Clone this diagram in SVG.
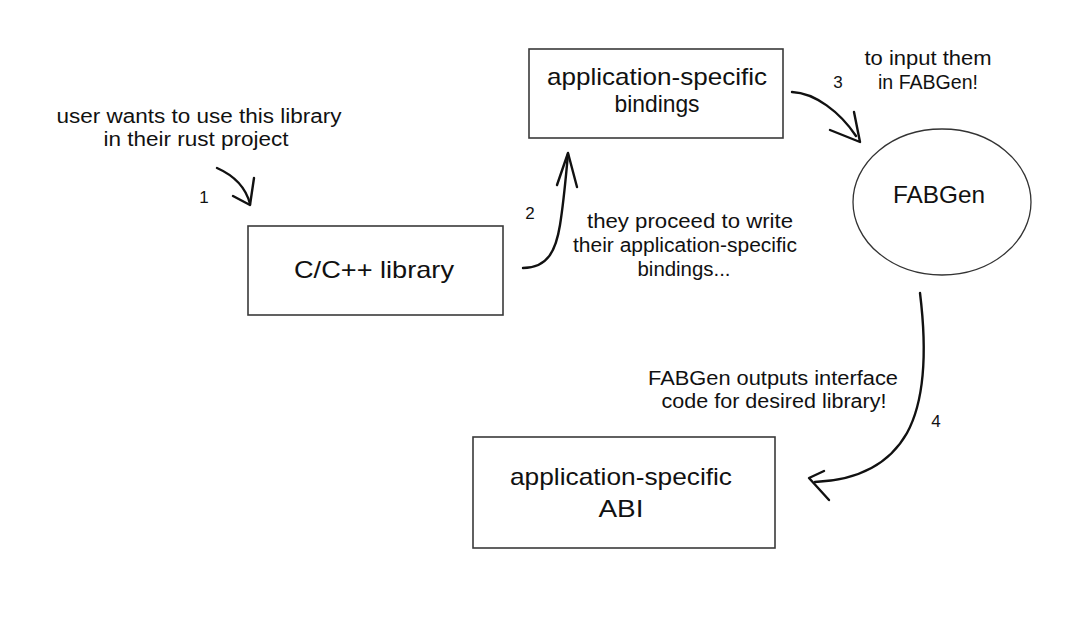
<svg xmlns="http://www.w3.org/2000/svg" width="1080" height="617" viewBox="0 0 1080 617">
<style>
  .box { fill: none; stroke: #3a3a3a; stroke-width: 1.6; }
  .ell { fill: none; stroke: #333; stroke-width: 1.3; }
  .conn { fill: none; stroke: #111; stroke-width: 2.4; stroke-linecap: round; stroke-linejoin: round; }
  .node { font-family: "Liberation Sans", Arial, sans-serif; font-size: 24px; fill: #111; text-anchor: middle; }
  .note { font-family: "Liberation Sans", Arial, sans-serif; font-size: 20px; fill: #111; text-anchor: middle; }
  .num { font-family: "Liberation Sans", Arial, sans-serif; font-size: 17px; fill: #111; text-anchor: middle; }
</style>
<rect width="1080" height="617" fill="#ffffff"/>

<g id="bindings">
  <rect class="box" x="529" y="49" width="254" height="89"/>
  <text class="node" x="657" y="85" textLength="220" lengthAdjust="spacingAndGlyphs">application-specific</text>
  <text class="node" x="657" y="112" textLength="85" lengthAdjust="spacingAndGlyphs">bindings</text>
</g>

<g id="clibrary">
  <rect class="box" x="248" y="226" width="255" height="89"/>
  <text class="node" x="374" y="278" textLength="160" lengthAdjust="spacingAndGlyphs">C/C++ library</text>
</g>

<g id="fabgen">
  <ellipse class="ell" cx="942" cy="202" rx="89" ry="73"/>
  <text class="node" x="939" y="203" textLength="92" lengthAdjust="spacingAndGlyphs">FABGen</text>
</g>

<g id="abi">
  <rect class="box" x="473" y="437" width="302" height="111"/>
  <text class="node" x="621" y="485" textLength="222" lengthAdjust="spacingAndGlyphs">application-specific</text>
  <text class="node" x="621" y="517" textLength="45" lengthAdjust="spacingAndGlyphs">ABI</text>
</g>

<g id="connectors">
  <path class="conn" d="M217,168 Q244,180 250,204"/>
  <path class="conn" d="M233,196 L250,205 L254,178"/>
  <path class="conn" d="M523,268 C548,268 556,250 560,225 C564,200 566,175 568,154"/>
  <path class="conn" d="M557,185 L568,153 L577,187"/>
  <path class="conn" d="M792,92 C815,93 840,112 856,136"/>
  <path class="conn" d="M830,130 L860,142 L854,112"/>
  <path class="conn" d="M920,293 C927,350 925,400 907,433 C890,463 860,480 815,482"/>
  <path class="conn" d="M824,471 L809,478 L829,500"/>
</g>

<g id="labels">
  <text class="note" x="199" y="123" textLength="285" lengthAdjust="spacingAndGlyphs">user wants to use this library</text>
  <text class="note" x="196" y="146" textLength="185" lengthAdjust="spacingAndGlyphs">in their rust project</text>
  <text class="num" x="204" y="203">1</text>
  <text class="num" x="530" y="219">2</text>
  <text class="note" x="690" y="228" textLength="206" lengthAdjust="spacingAndGlyphs">they proceed to write</text>
  <text class="note" x="685" y="252" textLength="224" lengthAdjust="spacingAndGlyphs">their application-specific</text>
  <text class="note" x="684" y="276" textLength="93" lengthAdjust="spacingAndGlyphs">bindings...</text>
  <text class="num" x="838" y="88">3</text>
  <text class="note" x="928" y="65" textLength="127" lengthAdjust="spacingAndGlyphs">to input them</text>
  <text class="note" x="928" y="89" textLength="100" lengthAdjust="spacingAndGlyphs">in FABGen!</text>
  <text class="note" x="773" y="385" textLength="250" lengthAdjust="spacingAndGlyphs">FABGen outputs interface</text>
  <text class="note" x="774" y="408" textLength="225" lengthAdjust="spacingAndGlyphs">code for desired library!</text>
  <text class="num" x="936" y="427">4</text>
</g>
</svg>
